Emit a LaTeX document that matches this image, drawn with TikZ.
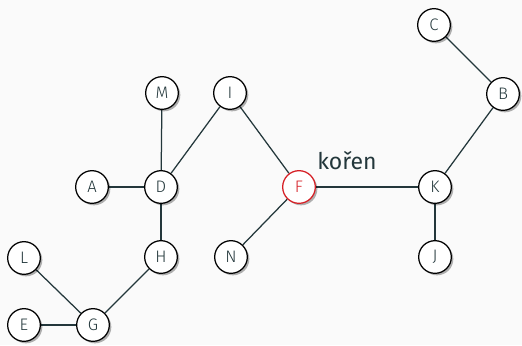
\documentclass[tikz,border=0pt]{standalone}
\usepackage{fontspec}
\setmainfont{Fira Sans}[UprightFont=* Light]
\newfontfamily\popisfont{Fira Sans}
\usepackage{tikz}
\usepackage{xcolor}
\usetikzlibrary{shadows}
\definecolor{darkTeal}{RGB}{35,55,59}
\definecolor{alertRed}{RGB}{214,30,36}
\definecolor{pozadi}{RGB}{250,250,250}
\pgfdeclarelayer{podklad}
\pgfdeclarelayer{hrany}
\pgfsetlayers{podklad,hrany,main}

\begin{document}
\begin{tikzpicture}[x=0.6pt, y=-0.6pt,
    uzel/.style={circle, draw=black, line width=0.75pt, fill=white, text=darkTeal,
        minimum size=19.6pt, inner sep=0pt, font=\fontsize{10}{12}\selectfont,
        drop shadow={shadow xshift=1.2pt, shadow yshift=-1.2pt, fill=black, opacity=0.3}},
    hrana/.style={draw=darkTeal, line width=0.75pt}]
                    \begin{pgfonlayer}{podklad}
                        \fill[pozadi] (0,0) rectangle (522,345);
                    \end{pgfonlayer}
                    \useasboundingbox (0,0) rectangle (522,345);

                    \node[uzel] (C) at (434,25) {C};
                    \node[uzel] (B) at (503,94) {B};
                    \node[uzel] (M) at (162,93) {M};
                    \node[uzel] (I) at (230,93) {I};
                    \node[uzel] (A) at (92,187) {A};
                    \node[uzel] (D) at (161,187) {D};
                    \node[uzel, draw=alertRed, text=alertRed] (F) at (299,187) {F};
                    \node[uzel] (K) at (435,187) {K};
                    \node[uzel] (L) at (24,258) {L};
                    \node[uzel] (H) at (161,257) {H};
                    \node[uzel] (N) at (231,257) {N};
                    \node[uzel] (J) at (435,257) {J};
                    \node[uzel] (E) at (24,325) {E};
                    \node[uzel] (G) at (93,325) {G};

                    \node[anchor=base, text=darkTeal, font=\popisfont\fontsize{13.8}{16}\selectfont] (koren) at (347,169) {kořen};

                    \begin{pgfonlayer}{hrany}
                        \draw[hrana] (A) -- (D);
                        \draw[hrana] (M) -- (D);
                        \draw[hrana] (D) -- (I);
                        \draw[hrana] (D) -- (H);
                        \draw[hrana] (H) -- (G);
                        \draw[hrana] (L) -- (G);
                        \draw[hrana] (E) -- (G);
                        \draw[hrana] (I) -- (F);
                        \draw[hrana] (F) -- (N);
                        \draw[hrana] (F) -- (K);
                        \draw[hrana] (K) -- (B);
                        \draw[hrana] (B) -- (C);
                        \draw[hrana] (K) -- (J);
                    \end{pgfonlayer}
                \end{tikzpicture}
\end{document}
